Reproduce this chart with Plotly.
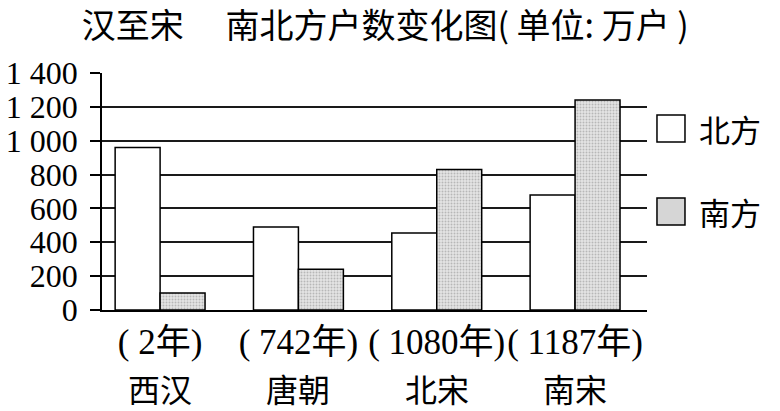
import plotly.graph_objects as go

# ---- data ----
dynasties = ["西汉", "唐朝", "北宋", "南宋"]
years = ["( 2年)", "( 742年)", "( 1080年)", "( 1187年)"]
north = [960, 490, 455, 680]      # 北方 (万户)
south = [100, 240, 830, 1240]     # 南方 (万户)
series_names = ["北方", "南方"]
y_tickvals = [0, 200, 400, 600, 800, 1000, 1200, 1400]
y_ticktext = ["0", "200", "400", "600", "800", "1 000", "1 200", "1 400"]
title_text = "汉至宋　 南北方户数变化图( 单位: 万户 )"

CJK = "Noto Sans CJK SC"
SERIF_CJK = "Liberation Serif, Noto Sans CJK SC"

fig = go.Figure()
fig.add_trace(go.Bar(
    x=dynasties, y=north, name=series_names[0],
    marker=dict(color="white", line=dict(color="black", width=1.5)),
    showlegend=False,
))
fig.add_trace(go.Bar(
    x=dynasties, y=south, name=series_names[1],
    marker=dict(color="#dcdcdc", line=dict(color="black", width=1.5),
                pattern=dict(shape=".", fgcolor="#8a8a8a", bgcolor="#e4e4e4",
                             size=3, solidity=0.35)),
    showlegend=False,
))

# dynasty names (second row of category labels)
for d in dynasties:
    fig.add_annotation(x=d, xref="x", y=0, yref="paper", yanchor="middle",
                       yshift=-78, text=d, showarrow=False, borderpad=0,
                       font=dict(family=CJK, size=32, color="black"))

# legend drawn as boxes + text
legend_fill = ["white", "#d6d6d6"]
legend_rows = [(0.8228, 0.7089), (0.4726, 0.3586)]
for name, fill, (y1, y0) in zip(series_names, legend_fill, legend_rows):
    fig.add_shape(type="rect", xref="paper", yref="paper",
                  x0=1.0183, x1=1.0697, y0=y0, y1=y1,
                  fillcolor=fill, line=dict(color="black", width=1.5))
    fig.add_annotation(x=1.092, xref="paper", y=(y0 + y1) / 2, yref="paper",
                       xanchor="left", yanchor="middle", text=name,
                       showarrow=False,
                       font=dict(family=CJK, size=31, color="black"))

fig.update_layout(
    width=780, height=411,
    margin=dict(l=102, r=133, t=73, b=101, autoexpand=False),
    paper_bgcolor="white", plot_bgcolor="white",
    barmode="group", bargap=0.35, bargroupgap=0,
    title=dict(text=title_text, x=0.494, xanchor="center",
               y=1 - 26 / 411, yanchor="middle",
               font=dict(family=CJK, size=34, color="black")),
    xaxis=dict(
        type="category", range=[-0.42, 3.52], automargin=False,
        tickvals=dynasties, ticktext=years, tickangle=0,
        tickfont=dict(family=SERIF_CJK, size=35, color="black"),
        showline=True, linecolor="black", linewidth=1.5,
        ticks="", showgrid=False, zeroline=False,
    ),
    yaxis=dict(
        range=[0, 1400], tickvals=y_tickvals, ticktext=y_ticktext,
        automargin=False,
        tickfont=dict(family="Liberation Serif", size=32, color="black"),
        showline=True, linecolor="black", linewidth=1.5,
        ticks="outside", ticklen=10, tickwidth=1.5, tickcolor="black",
        ticklabelstandoff=6,
        showgrid=True, gridcolor="#1a1a1a", gridwidth=1.5,
        zeroline=False,
    ),
)

fig.write_html("out.html",
               config={"displayModeBar": False},
               post_script="document.body.style.margin='0';")
